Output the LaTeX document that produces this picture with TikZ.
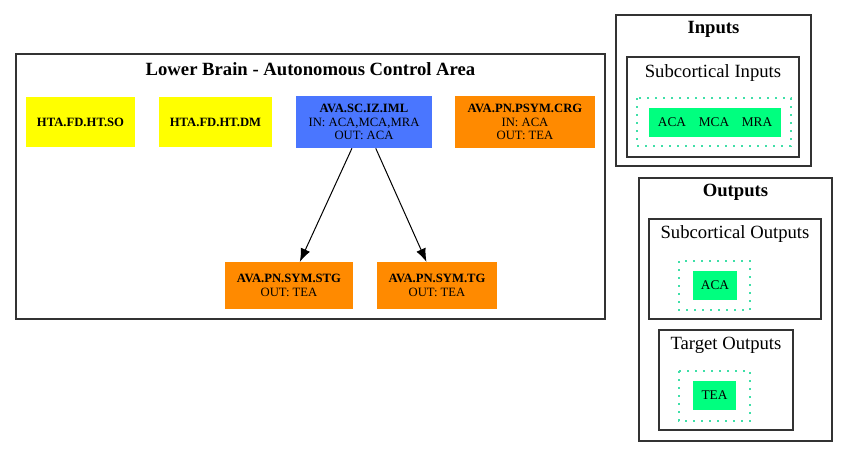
\documentclass[tikz,border=0pt]{standalone}
\usepackage{fontspec}
\setmainfont{Liberation Serif}
\usepackage{tikz}
\usetikzlibrary{arrows, arrows.meta}
\definecolor{ylw}{HTML}{FFFF00}
\definecolor{blu}{HTML}{4A76FF}
\definecolor{orng}{HTML}{FF8A00}
\definecolor{sprg}{HTML}{00FF7F}
\definecolor{aqua}{HTML}{3FDFA8}
\definecolor{edge}{HTML}{333333}
\tikzstyle{area} = [draw=edge, line width=1pt]
\tikzstyle{group} = [draw=aqua, line width=1pt, dash pattern=on 1.5pt off 4.5pt]
\tikzstyle{areatitle} = [font=\fontsize{14}{16}\selectfont\bfseries]
\tikzstyle{grouptitle} = [font=\fontsize{14}{16}\selectfont]
\tikzstyle{unit} = [rectangle, inner sep=0pt, text centered, align=center,
    font=\fontsize{9.5}{10}\selectfont]
\tikzstyle{hta} = [unit, fill=ylw]
\tikzstyle{iml} = [unit, fill=blu]
\tikzstyle{pn} = [unit, fill=orng]
\tikzstyle{sig} = [unit, fill=sprg, font=\fontsize{10}{11}\selectfont]
\tikzstyle{arrow} = [line width=0.75pt,-{Latex[length=10pt,width=7.5pt]}]

\begin{document}
\begin{tikzpicture}[x=0.75pt, y=-0.75pt]
                \useasboundingbox (0,0) rectangle (848,457);
                % lower brain area
                \draw [area] (16,54) rectangle (605,319);
                \node (lbtitle) [areatitle] at (310.5,69) {Lower Brain - Autonomous Control Area};
                \node (so) [hta, minimum width=82pt, minimum height=37.5pt] at (80.5,122) {\textbf{HTA.FD.HT.SO}};
                \node (dm) [hta, minimum width=85pt, minimum height=37.5pt] at (215.5,122) {\textbf{HTA.FD.HT.DM}};
                \node (izml) [iml, minimum width=102pt, minimum height=39pt] at (364,122) {\textbf{AVA.SC.IZ.IML}\\IN: ACA,MCA,MRA\\OUT: ACA};
                \node (crg) [pn, minimum width=105pt, minimum height=39pt] at (525,122) {\textbf{AVA.PN.PSYM.CRG}\\IN: ACA\\OUT: TEA};
                \node (stg) [pn, minimum width=96pt, minimum height=35pt] at (289,285.5) {\textbf{AVA.PN.SYM.STG}\\OUT: TEA};
                \node (tg) [pn, minimum width=90pt, minimum height=35pt] at (437,285.5) {\textbf{AVA.PN.SYM.TG}\\OUT: TEA};
                \draw [arrow] (izml) -- (stg);
                \draw [arrow] (izml) -- (tg);
                % inputs
                \draw [area] (616,15) rectangle (811,166);
                \node (intitle) [areatitle] at (713.5,29) {Inputs};
                \draw [area] (627,57) rectangle (799,157);
                \node (subintitle) [grouptitle] at (713,73) {Subcortical Inputs};
                \draw [group] (637,98) rectangle (791,146);
                \node (subin) [sig, minimum width=99pt, minimum height=22pt] at (715,122.5) {};
                \node (inaca) [unit, font=\fontsize{10}{11}\selectfont] at (672,122.5) {ACA};
                \node (inmca) [unit, font=\fontsize{10}{11}\selectfont] at (714,122.5) {MCA};
                \node (inmra) [unit, font=\fontsize{10}{11}\selectfont] at (757,122.5) {MRA};
                % outputs
                \draw [area] (639,178) rectangle (832,441);
                \node (outtitle) [areatitle] at (735.5,192) {Outputs};
                \draw [area] (649,219) rectangle (821,319);
                \node (subouttitle) [grouptitle] at (735,234) {Subcortical Outputs};
                \draw [group] (679,261) rectangle (750,310);
                \node (outaca) [sig, minimum width=33pt, minimum height=22pt] at (715,285.5) {ACA};
                \draw [area] (659,330) rectangle (793,430);
                \node (tgttitle) [grouptitle] at (726,345) {Target Outputs};
                \draw [group] (679,371) rectangle (750,421);
                \node (outtea) [sig, minimum width=32pt, minimum height=22pt] at (714.5,395.5) {TEA};
            \end{tikzpicture}
\end{document}
